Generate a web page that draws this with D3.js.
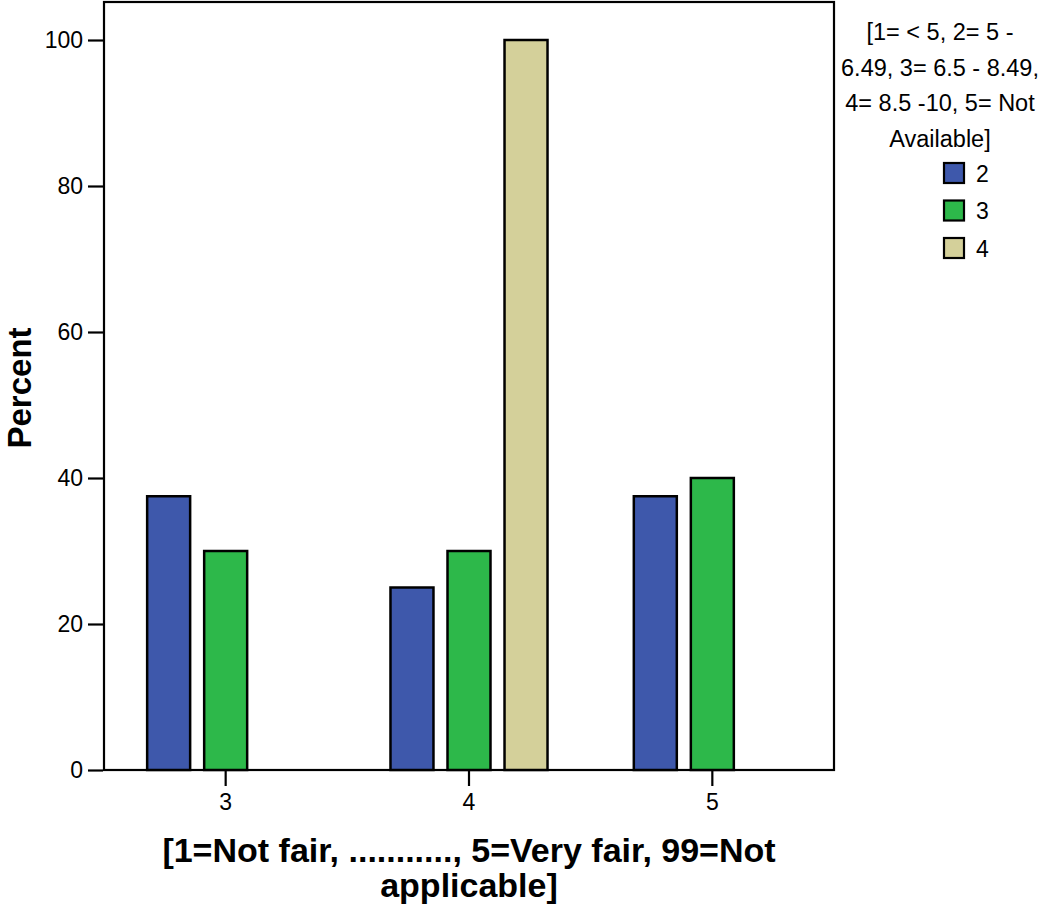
<!DOCTYPE html>
<html><head><meta charset="utf-8">
<script src="https://cdn.jsdelivr.net/npm/d3@7"></script>
<style>body{margin:0;background:#fff;} svg{display:block;}</style>
</head><body>
<svg id="c" width="1043" height="904"></svg>
<script>
const categories = ["3", "4", "5"];
const seriesNames = ["2", "3", "4"];
const seriesColors = ["#3e58ab", "#2db84a", "#d4d09a"];
const values2 = [37.5, 25, 37.5];
const values3 = [30, 30, 40];
const values4 = [0, 100, null];
const yTicks = [0, 20, 40, 60, 80, 100];
const legendTitle = ["[1= < 5, 2= 5 -", "6.49, 3= 6.5 - 8.49,", "4= 8.5 -10, 5= Not", "Available]"];
const xTitle = ["[1=Not fair, ..........., 5=Very fair, 99=Not", "applicable]"];
const yTitle = "Percent";

const allValues = [values2, values3, values4];
const svg = d3.select("#c");
const L = 104, R = 834, T = 2, B = 770;
const font = "Liberation Sans, Arial, sans-serif";
const boldFont = "Liberation Sans Narrow, Arial Narrow, sans-serif";

const x0 = d3.scaleBand().domain(categories).range([L, R]);
const groupW = x0.bandwidth() * 0.703;
const x1 = d3.scaleBand().domain(seriesNames).range([-groupW / 2, groupW / 2]).paddingInner(0.246).paddingOuter(0.123);
const y = d3.scaleLinear().domain([0, 100]).range([B, 40]);

// frame
svg.append("rect").attr("x", L).attr("y", T).attr("width", R - L).attr("height", B - T)
  .attr("fill", "none").attr("stroke", "#000").attr("stroke-width", 2.2);

// bars
seriesNames.forEach((s, si) => {
  categories.forEach((c, ci) => {
    const v = allValues[si][ci];
    if (v === null) return;
    const xc = x0(c) + x0.bandwidth() / 2 + x1(s);
    svg.append("rect")
      .attr("x", xc).attr("y", y(v))
      .attr("width", x1.bandwidth()).attr("height", B - y(v))
      .attr("fill", seriesColors[si]).attr("stroke", "#000").attr("stroke-width", 2.5);
  });
});

// y axis
const yAxis = svg.append("g").attr("transform", `translate(${L},0)`)
  .call(d3.axisLeft(y).tickValues(yTicks).tickSize(16).tickPadding(5));
yAxis.attr("font-size", 23).attr("font-family", font);
yAxis.select(".domain").remove();
yAxis.selectAll("line").attr("stroke", "#000").attr("stroke-width", 2.2).attr("x2", -16).attr("x1", -1);
yAxis.selectAll("text").attr("font-family", font).attr("font-size", 23).attr("fill", "#000");

// x axis
const xAxis = svg.append("g").attr("transform", `translate(0,${B})`)
  .call(d3.axisBottom(x0).tickSize(16).tickPadding(8));
xAxis.attr("font-size", 23).attr("font-family", font);
xAxis.select(".domain").remove();
xAxis.selectAll("line").attr("stroke", "#000").attr("stroke-width", 2.2);
xAxis.selectAll("text").attr("font-family", font).attr("font-size", 23).attr("fill", "#000");

// x title
svg.append("text").attr("x", 469).attr("y", 862).attr("text-anchor", "middle")
  .attr("font-family", boldFont).attr("font-weight", "bold")
  .attr("font-size", 34).attr("fill", "#000").text(xTitle[0]);
svg.append("text").attr("x", 469).attr("y", 897).attr("text-anchor", "middle")
  .attr("font-family", boldFont).attr("font-weight", "bold")
  .attr("font-size", 34).attr("fill", "#000").text(xTitle[1]);

// y title
svg.append("text").attr("transform", "translate(31,388) rotate(-90)").attr("text-anchor", "middle")
  .attr("font-family", boldFont).attr("font-weight", "bold")
  .attr("font-size", 33).attr("fill", "#000").text(yTitle);

// legend
legendTitle.forEach((t, i) => {
  svg.append("text").attr("x", 940).attr("y", 40 + i * 35.5).attr("text-anchor", "middle")
    .attr("font-family", font).attr("font-size", 23.5).attr("fill", "#000").text(t);
});
const lg = svg.append("g");
seriesNames.forEach((s, i) => {
  const yy = 173 + i * 37.5;
  lg.append("rect").attr("x", 944).attr("y", yy - 10).attr("width", 20).attr("height", 20)
    .attr("fill", seriesColors[i]).attr("stroke", "#000").attr("stroke-width", 2.2);
  lg.append("text").attr("x", 976).attr("y", yy + 8.5).attr("font-family", font).attr("font-size", 23)
    .attr("fill", "#000").text(s);
});
</script>
</body></html>
